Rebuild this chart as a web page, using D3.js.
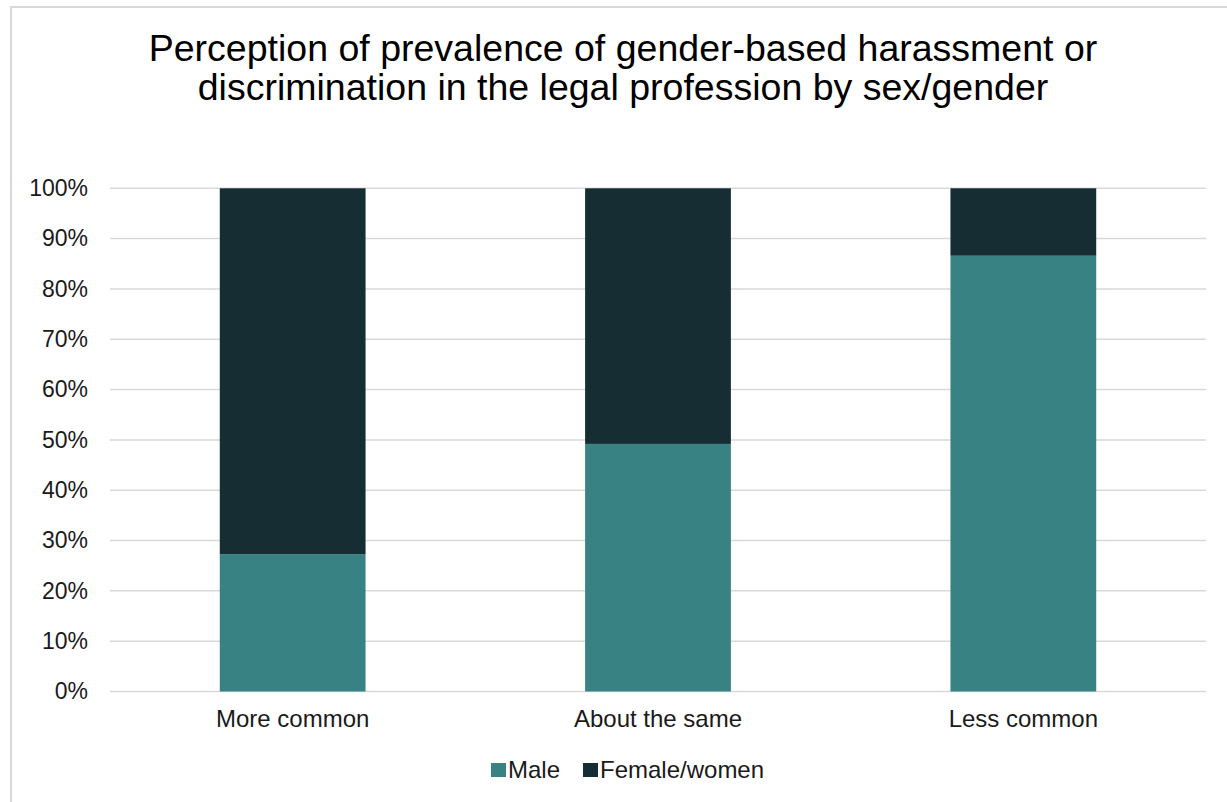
<!DOCTYPE html>
<html>
<head>
<meta charset="utf-8">
<script src="https://cdn.jsdelivr.net/npm/d3@7/dist/d3.min.js"></script>
<style>
  html, body { margin: 0; padding: 0; background: #ffffff; }
  svg { display: block; font-family: "Liberation Sans", Arial, sans-serif; }
</style>
</head>
<body>
<svg id="chart" width="1227" height="802"></svg>
<script>
// Survey responses: share of each answer group by sex/gender
const categories = ["More common", "About the same", "Less common"];
const maleValues = [27.3, 49.2, 86.6];
const femaleValues = [72.7, 50.8, 13.4];
const seriesNames = ["Male", "Female/women"];
const seriesColors = ["#388284", "#152d33"];
const yTicks = [0, 10, 20, 30, 40, 50, 60, 70, 80, 90, 100];
const titleLines = [
  "Perception of prevalence of gender-based harassment or",
  "discrimination in the legal profession by sex/gender"
];

const svg = d3.select("#chart");
const W = 1227, H = 802;

// Chart frame
svg.append("rect")
  .attr("x", 11).attr("y", 7)
  .attr("width", W + 20).attr("height", H + 20)
  .attr("fill", "#ffffff")
  .attr("stroke", "#d9d9d9")
  .attr("stroke-width", 2);

const plot = { left: 110, right: 1206, top: 188.3, bottom: 691.5 };

const x = d3.scaleBand()
  .domain(categories)
  .range([plot.left, plot.right])
  .paddingInner(0)
  .paddingOuter(0);

const y = d3.scaleLinear()
  .domain([0, 100])
  .range([plot.bottom, plot.top]);

// Gridlines
svg.append("g")
  .selectAll("line")
  .data(yTicks)
  .join("line")
  .attr("x1", plot.left).attr("x2", plot.right)
  .attr("y1", d => y(d)).attr("y2", d => y(d))
  .attr("stroke", "#d9d9d9")
  .attr("stroke-width", 1.5);

// Y axis labels
const yAxis = d3.axisLeft(y)
  .tickValues(yTicks)
  .tickFormat(d => d + "%")
  .tickSize(0)
  .tickPadding(0);
const yg = svg.append("g")
  .attr("transform", `translate(${88},0)`)
  .call(yAxis);
yg.select(".domain").remove();
yg.selectAll("text")
  .attr("font-family", "'Liberation Sans', Arial, sans-serif")
  .attr("font-size", 23)
  .attr("fill", "#1a1a1a");

// Stacked bars
const rows = categories.map((c, i) => ({ category: c, Male: maleValues[i], "Female/women": femaleValues[i] }));
const stack = d3.stack().keys(seriesNames);
const stacked = stack(rows);
const barFrac = 0.399;
const barW = x.bandwidth() * barFrac;

svg.append("g")
  .selectAll("g")
  .data(stacked)
  .join("g")
  .attr("fill", (d, i) => seriesColors[i])
  .selectAll("rect")
  .data(d => d)
  .join("rect")
  .attr("x", d => x(d.data.category) + (x.bandwidth() - barW) / 2)
  .attr("width", barW)
  .attr("y", d => y(d[1]))
  .attr("height", d => y(d[0]) - y(d[1]));

// X axis labels
const xAxis = d3.axisBottom(x).tickSize(0).tickPadding(0);
const xg = svg.append("g")
  .attr("transform", `translate(0,${710})`)
  .call(xAxis);
xg.select(".domain").remove();
xg.selectAll("text")
  .attr("font-family", "'Liberation Sans', Arial, sans-serif")
  .attr("font-size", 24)
  .attr("fill", "#1a1a1a");

// Title
svg.append("g")
  .selectAll("text")
  .data(titleLines)
  .join("text")
  .attr("x", 623)
  .attr("y", (d, i) => 60.5 + i * 39.5)
  .attr("text-anchor", "middle")
  .attr("font-size", 37.5)
  .attr("fill", "#000000")
  .text(d => d);

// Legend
const legendItems = [
  { name: seriesNames[0], color: seriesColors[0], x: 491 },
  { name: seriesNames[1], color: seriesColors[1], x: 583 }
];
const lg = svg.append("g");
legendItems.forEach(it => {
  lg.append("rect")
    .attr("x", it.x).attr("y", 763)
    .attr("width", 15).attr("height", 14)
    .attr("fill", it.color);
  lg.append("text")
    .attr("x", it.x + 17).attr("y", 777.5)
    .attr("font-size", 24)
    .attr("fill", "#1a1a1a")
    .text(it.name);
});
</script>
</body>
</html>
